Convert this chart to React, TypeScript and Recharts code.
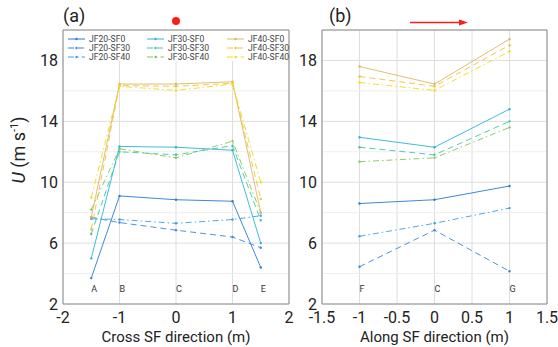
import React from 'react';
import { ComposedChart, Line, Scatter, XAxis, YAxis, CartesianGrid, ReferenceLine } from 'recharts';

// ---------- data ----------
const seriesNames = [
  'JF20-SF0', 'JF20-SF30', 'JF20-SF40',
  'JF30-SF0', 'JF30-SF30', 'JF30-SF40',
  'JF40-SF0', 'JF40-SF30', 'JF40-SF40',
];

// Cross SF direction (panel a)
const crossX = [-1.5, -1, 0, 1, 1.5];
const crossPointLabels = ['A', 'B', 'C', 'D', 'E'];
const crossJF20SF0 = [3.7, 9.1, 8.85, 8.75, 4.4];
const crossJF20SF30 = [7.7, 7.35, 6.85, 6.4, 5.7];
const crossJF20SF40 = [7.6, 7.55, 7.3, 7.55, 7.8];
const crossJF30SF0 = [5.0, 12.35, 12.3, 12.1, 6.0];
const crossJF30SF30 = [6.6, 12.0, 11.8, 12.4, 7.5];
const crossJF30SF40 = [8.2, 12.2, 11.6, 12.7, 8.0];
const crossJF40SF0 = [7.7, 16.45, 16.45, 16.6, 8.0];
const crossJF40SF30 = [6.9, 16.35, 16.3, 16.5, 8.9];
const crossJF40SF40 = [9.0, 16.3, 16.03, 16.45, 10.0];

// Along SF direction (panel b)
const alongX = [-1, 0, 1];
const alongPointLabels = ['F', 'C', 'G'];
const alongJF20SF0 = [8.6, 8.85, 9.75];
const alongJF20SF30 = [4.45, 6.85, 4.15];
const alongJF20SF40 = [6.45, 7.3, 8.3];
const alongJF30SF0 = [12.95, 12.3, 14.8];
const alongJF30SF30 = [12.3, 11.8, 14.0];
const alongJF30SF40 = [11.35, 11.6, 13.6];
const alongJF40SF0 = [17.6, 16.45, 19.4];
const alongJF40SF30 = [16.95, 16.3, 19.0];
const alongJF40SF40 = [16.55, 16.03, 18.6];

const yTicks = [2, 6, 10, 14, 18];
const yMinorGrid = [4, 8, 12, 16];
const crossTicks = [-2, -1, 0, 1, 2];
const alongTicks = [-1.5, -1, -0.5, 0, 0.5, 1, 1.5];
const labelRowValue = 3;

// ---------- build tables ----------
const crossSeries = [crossJF20SF0, crossJF20SF30, crossJF20SF40, crossJF30SF0, crossJF30SF30, crossJF30SF40, crossJF40SF0, crossJF40SF30, crossJF40SF40];
const alongSeries = [alongJF20SF0, alongJF20SF30, alongJF20SF40, alongJF30SF0, alongJF30SF30, alongJF30SF40, alongJF40SF0, alongJF40SF30, alongJF40SF40];

const buildRows = (xs: number[], series: number[][]) =>
  xs.map((x, i) => {
    const row: Record<string, number> = { x };
    seriesNames.forEach((n, k) => { row[n] = series[k][i]; });
    return row;
  });

const crossData = buildRows(crossX, crossSeries);
const alongData = buildRows(alongX, alongSeries);
const crossLabelData = crossX.map((x, i) => ({ x, y: labelRowValue, label: crossPointLabels[i] }));
const alongLabelData = alongX.map((x, i) => ({ x, y: labelRowValue, label: alongPointLabels[i] }));

// ---------- styles ----------
const colors = ['#2b7bd0', '#3a86e0', '#3aa0ea', '#29b6d6', '#3cc8a8', '#86c35a', '#dcb866', '#f2c038', '#f2dc10'];
const dashes = ['', '6 4', '6 3 1.5 3', '', '6 4', '6 3 1.5 3', '', '6 4', '6 3 1.5 3'];

const FONT = 'Roboto, "Noto Sans", sans-serif';
const AXIS_COLOR = '#8c8c8c';
const GRID_MAJOR = '#dedede';
const GRID_MINOR = '#eeeeee';

const LetterShape = (props: any) => {
  const { cx, cy, payload } = props;
  return (
    <text x={cx} y={cy} dy="0.35em" fontSize={9} fill="#333" fontFamily={FONT} textAnchor="start">
      {payload.label}
    </text>
  );
};

const renderLines = () =>
  seriesNames.map((n, k) => (
    <Line
      key={n}
      dataKey={n}
      type="linear"
      stroke={colors[k]}
      strokeWidth={1}
      strokeOpacity={0.9}
      strokeDasharray={dashes[k] || undefined}
      dot={{ r: 1.2, fill: colors[k], stroke: colors[k], strokeWidth: 0 }}
      activeDot={false}
      isAnimationActive={false}
    />
  ));

const Panel = ({ data, labels, domain, ticks, width, yWidth, title }: any) => (
  <ComposedChart
    width={width}
    height={347}
    data={data}
    margin={{ top: 30, right: 11, left: 0, bottom: 0 }}
  >
    <CartesianGrid stroke={GRID_MAJOR} />
    {yMinorGrid.map((v) => (
      <ReferenceLine key={v} y={v} stroke={GRID_MINOR} />
    ))}
    <XAxis
      dataKey="x"
      type="number"
      domain={domain}
      ticks={ticks}
      height={43}
      tickSize={0}
      tickMargin={8}
      axisLine={{ stroke: AXIS_COLOR }}
      tick={{ fontSize: 16, fill: '#222', fontFamily: FONT }}
      label={{ value: title, position: 'insideBottom', offset: 5, fontSize: 15, fill: '#222', fontFamily: FONT }}
    />
    <YAxis
      type="number"
      domain={[2, 20]}
      ticks={yTicks}
      width={yWidth}
      tickSize={0}
      tickMargin={5}
      axisLine={{ stroke: AXIS_COLOR }}
      tick={{ fontSize: 16, fill: '#222', fontFamily: FONT }}
    />
    <ReferenceLine y={20} stroke={AXIS_COLOR} />
    <ReferenceLine x={domain[1]} stroke={AXIS_COLOR} />
    {renderLines()}
    <Scatter data={labels} dataKey="y" shape={LetterShape} isAnimationActive={false} />
  </ComposedChart>
);

const Legend = () => {
  const colX = [4, 83, 163];
  const rowY = [8, 17, 26];
  return (
    <svg
      width={224}
      height={30}
      style={{ position: 'absolute', left: 64, top: 31, background: '#fff', overflow: 'visible' }}
    >
      {seriesNames.map((n, k) => {
        const col = Math.floor(k / 3);
        const row = k % 3;
        const x = colX[col];
        const y = rowY[row];
        return (
          <g key={n}>
            <line x1={x} x2={x + 17} y1={y} y2={y} stroke={colors[k]} strokeWidth={1} strokeDasharray={dashes[k] || undefined} />
            <circle cx={x + 8.5} cy={y} r={1.2} fill={colors[k]} />
            <text x={x + 21} y={y} dy="0.35em" fontSize={8.6} fill="#444" fontFamily={FONT}>{n}</text>
          </g>
        );
      })}
    </svg>
  );
};

export default function App() {
  return (
    <div style={{ position: 'absolute', left: 0, top: 0, width: 558, height: 347, background: '#fff', fontFamily: FONT }}>
      <div style={{ position: 'absolute', left: 0, top: 0 }}>
        <Panel data={crossData} labels={crossLabelData} domain={[-2, 2]} ticks={crossTicks} width={300} yWidth={63} title="Cross SF direction (m)" />
      </div>
      <div style={{ position: 'absolute', left: 295, top: 0 }}>
        <Panel data={alongData} labels={alongLabelData} domain={[-1.5, 1.5]} ticks={alongTicks} width={263} yWidth={27} title="Along SF direction (m)" />
      </div>
      <Legend />
      <svg width={558} height={347} style={{ position: 'absolute', left: 0, top: 0, pointerEvents: 'none' }}>
        <text x={63} y={22} fontSize={18} fill="#222" fontFamily={FONT}>(a)</text>
        <text x={329} y={22} fontSize={18} fill="#222" fontFamily={FONT}>(b)</text>
        <circle cx={176} cy={21} r={4} fill="#ff1a1a" />
        <line x1={410} x2={460} y1={22.5} y2={22.5} stroke="#ff1a1a" strokeWidth={1.3} />
        <polygon points="468,22.5 459,19.5 459,25.5" fill="#ff1a1a" />
        <text
          transform="translate(25,150) rotate(-90)"
          textAnchor="middle"
          fontSize={18}
          fill="#222"
          fontFamily={FONT}
        >
          <tspan fontStyle="italic">U</tspan>
          <tspan> (m s</tspan>
          <tspan fontSize={11} dy={-7}>-1</tspan>
          <tspan dy={7}>)</tspan>
        </text>
      </svg>
    </div>
  );
}
